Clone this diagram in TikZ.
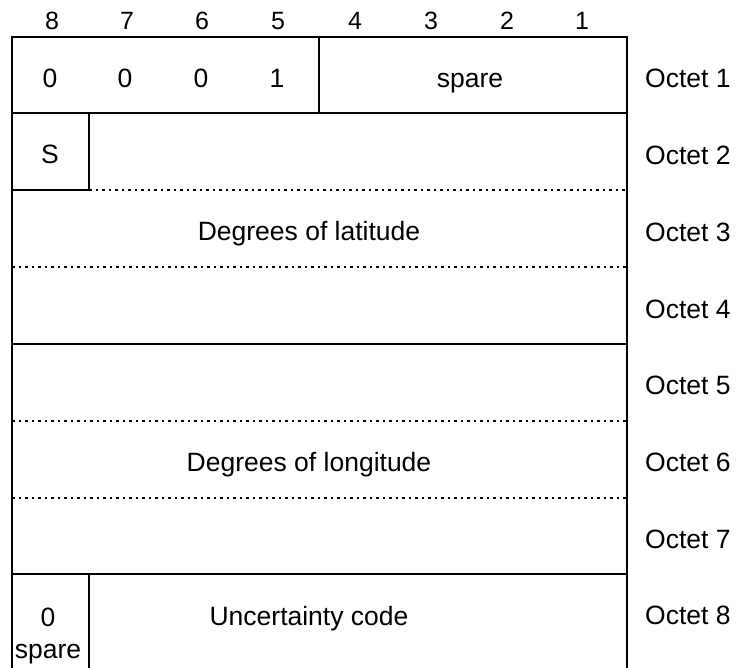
\documentclass[tikz,border=0pt]{standalone}
\usepackage{fontspec}
\setmainfont{Liberation Sans}
\begin{document}
\begin{tikzpicture}[x=1pt,y=-1pt,
  solidln/.style={line width=1.8pt, line cap=rect},
  dotln/.style={line width=1.3pt, dash pattern=on 2.5pt off 4pt},
  txt/.style={font=\fontsize{26.5}{28}\selectfont, inner sep=0pt, anchor=base},
  bittxt/.style={font=\fontsize{25}{27}\selectfont, inner sep=0pt, anchor=base}]
\useasboundingbox (0,0) rectangle (736,668);
% coordinates
\coordinate (TL) at (12,37); \coordinate (TR) at (627,37);
\coordinate (BL) at (12,668); \coordinate (BR) at (627,668);
% outer frame
\draw[solidln] (BL) -- (TL) -- (TR) -- (BR);
% solid horizontals
\draw[solidln] (12,113) -- (627,113);
\draw[solidln] (12,344) -- (627,344);
\draw[solidln] (12,574) -- (627,574);
% verticals
\draw[solidln] (319,37) -- (319,113);
\draw[solidln] (89,113) -- (89,190) -- (12,190);
\draw[solidln] (89,574) -- (89,668);
% dotted
\draw[dotln] (89,190) -- (627,190);
\draw[dotln] (12,267) -- (627,267);
\draw[dotln] (12,421) -- (627,421);
\draw[dotln] (12,498) -- (627,498);
% bit numbers
\node[bittxt] (bit8) at (52,30) {8};
\node[bittxt] (bit7) at (127,30) {7};
\node[bittxt] (bit6) at (202,30) {6};
\node[bittxt] (bit5) at (278,30) {5};
\node[bittxt] (bit4) at (355,30) {4};
\node[bittxt] (bit3) at (431,30) {3};
\node[bittxt] (bit2) at (507,30) {2};
\node[bittxt] (bit1) at (582,30) {1};
% octet 1
\node[txt] (v8) at (50,88) {0};
\node[txt] (v7) at (125,88) {0};
\node[txt] (v6) at (201,88) {0};
\node[txt] (v5) at (277,88) {1};
\node[txt] (sp1) at (470,88) {spare};
% octet 2
\node[txt] (S) at (50,164) {S};
\node[txt] (lat) at (309,241) {Degrees of latitude};
\node[txt] (lon) at (309,471) {Degrees of longitude};
% octet 8
\node[txt] (z8) at (48,626) {0};
\node[txt] (sp8) at (48,658) {spare};
\node[txt] (unc) at (309,625) {Uncertainty code};
% octet labels
\foreach \o in {1,...,8}
  \node[txt, anchor=base west] (oct\o) at (645,{88+76.7*(\o-1)}) {Octet \o};
\end{tikzpicture}
\end{document}
